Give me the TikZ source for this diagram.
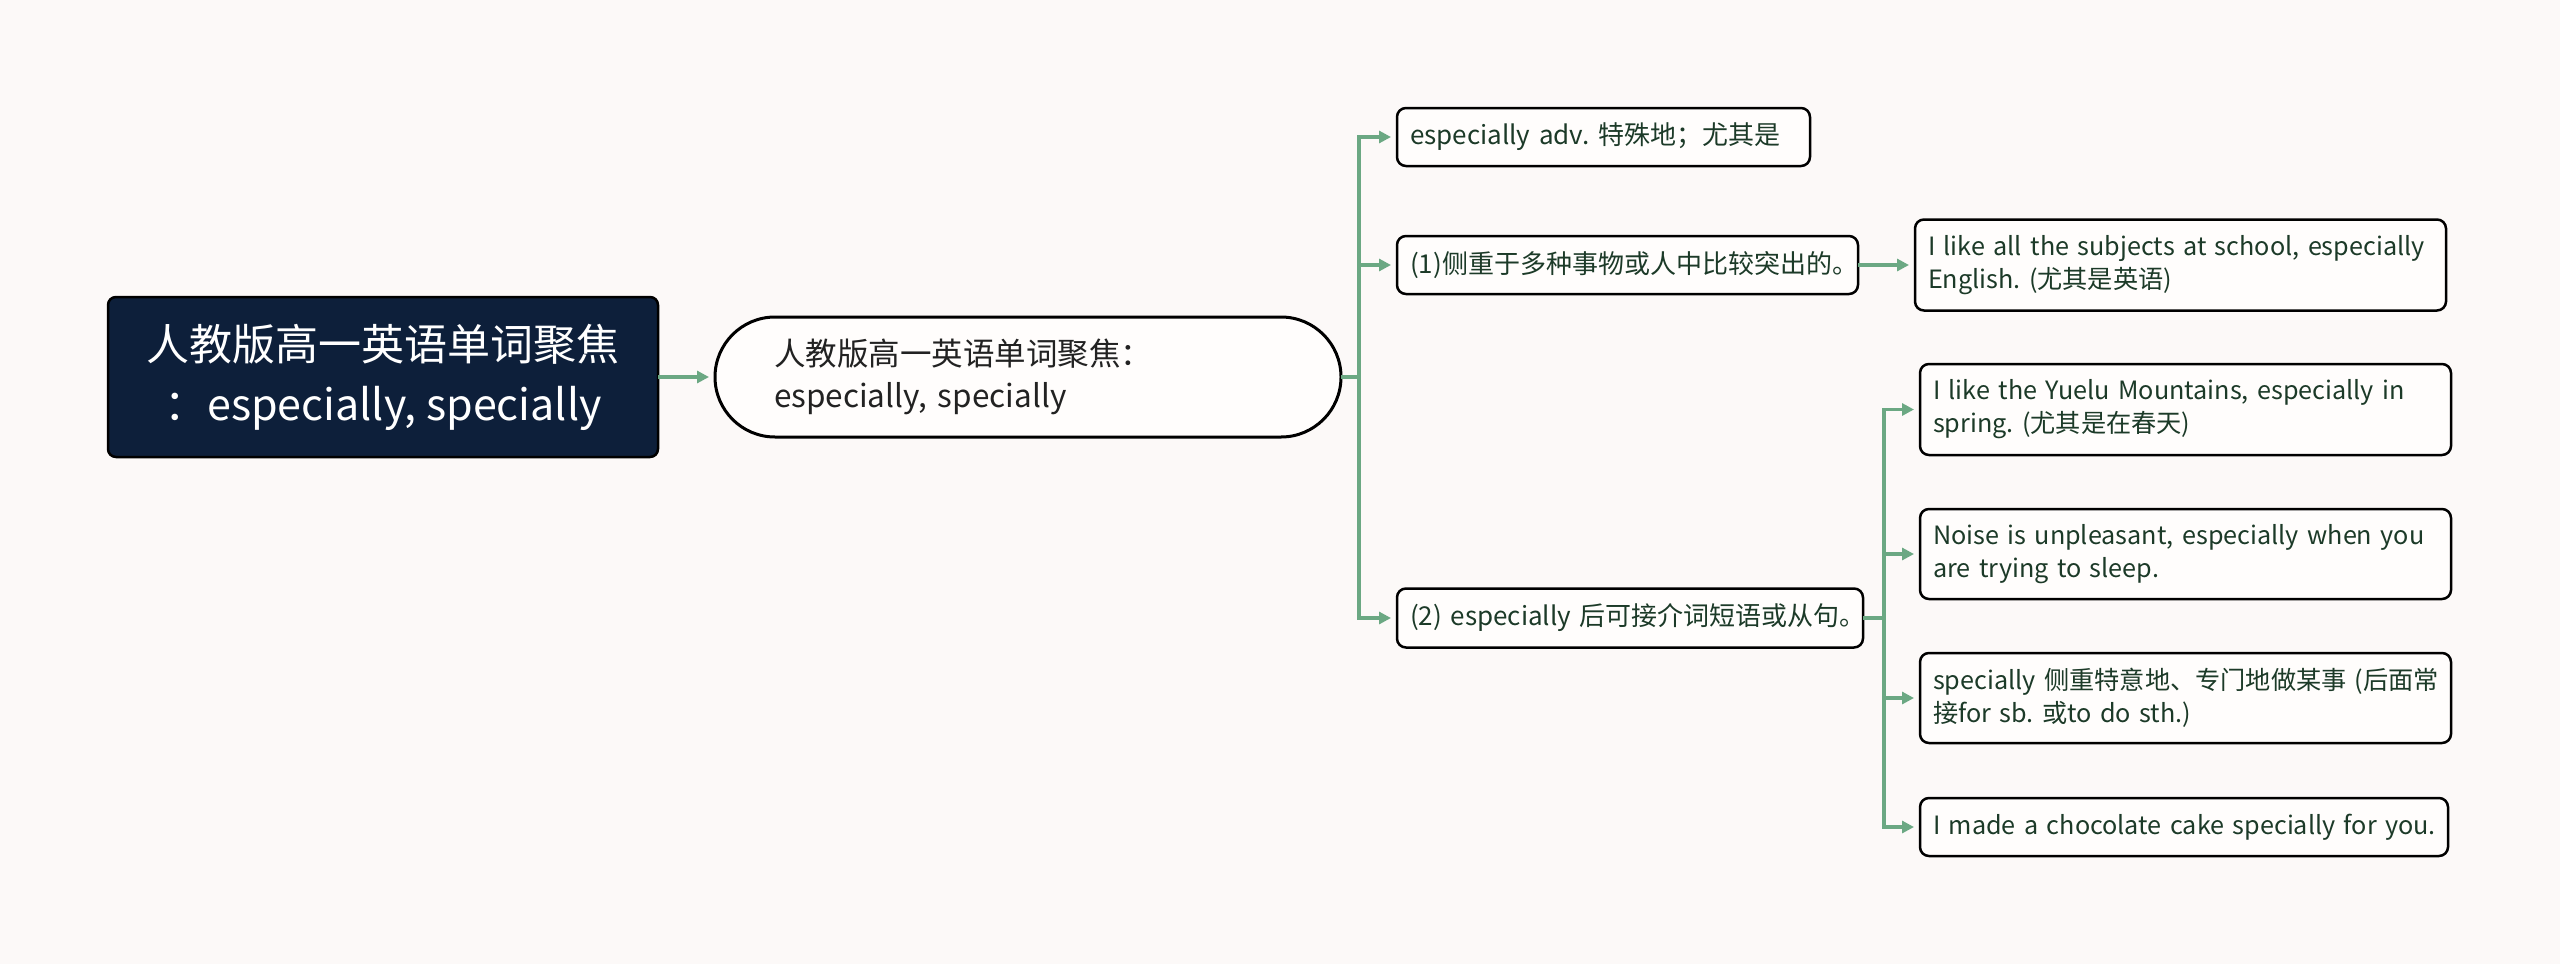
\documentclass[tikz,border=0pt]{standalone}
\usepackage{fontspec}
\setmainfont{Noto Sans CJK SC}
\usetikzlibrary{arrows.meta}
\definecolor{bgc}{HTML}{FCF9F8}
\definecolor{boxfill}{HTML}{FFFDFC}
\definecolor{childtext}{HTML}{1C3A28}
\definecolor{midtext}{HTML}{222222}
\definecolor{connc}{HTML}{6BA883}
\definecolor{rootfill}{HTML}{0D1F3A}
\tikzset{
  rootbox/.style={draw=black, line width=2.5pt, fill=rootfill, rounded corners=8pt, text=white,
    font=\fontsize{43}{60}\selectfont, align=center, minimum width=550pt, minimum height=160pt,
    inner sep=0pt, outer sep=0pt},
  midbox/.style={draw=black, line width=3pt, fill=boxfill, rounded corners=60pt, text=midtext,
    font=\fontsize{31.5}{42}\selectfont, align=left, minimum height=120pt, text width=508pt,
    inner xsep=59pt, inner ysep=0pt, outer sep=0pt, anchor=west},
  leafbox/.style={draw=black, line width=2.5pt, fill=boxfill, rounded corners=9pt, text=childtext,
    font=\fontsize{26}{33}\selectfont, align=left, inner xsep=13pt, inner ysep=0pt, outer sep=0pt,
    anchor=west},
  gleaf/.style={leafbox, font=\fontsize{25.2}{33}\selectfont},
  conn/.style={draw=connc, line width=3.5pt, -{Triangle[length=12pt,width=12pt]}, shorten >=6pt},
}
\begin{document}
\frenchspacing
\begin{tikzpicture}[x=1pt,y=-1pt]
\fill[bgc] (0,0) rectangle (2560,964);
\useasboundingbox (0,0) rectangle (2560,964);

\node[rootbox] (root) at (383,377) {人教版高一英语单词聚焦\\：especially, specially};
\node[midbox] (mid) at (715,377) {\mbox{人教版高一英语单词聚焦：}\\\mbox{especially, specially}};

\node[leafbox, minimum height=58pt, text width=387pt] (c1) at (1397,137) {\mbox{especially adv. 特殊地；尤其是}};
\node[leafbox, minimum height=58pt, text width=435pt] (c2) at (1397,265) {\mbox{(1)侧重于多种事物或人中比较突出的。}};
\node[leafbox, minimum height=59pt, text width=440pt] (c3) at (1397,618) {\mbox{(2) especially 后可接介词短语或从句。}};

\node[gleaf, minimum height=91pt, text width=505pt] (g0) at (1915,265) {\mbox{I like all the subjects at school, especially}\\\mbox{English. (尤其是英语)}};

\node[gleaf, minimum height=91pt, text width=505pt] (g1) at (1920,409.5) {\mbox{I like the Yuelu Mountains, especially in}\\\mbox{spring. (尤其是在春天)}};
\node[gleaf, minimum height=90pt, text width=505pt] (g2) at (1920,554) {\mbox{Noise is unpleasant, especially when you}\\\mbox{are trying to sleep.}};
\node[gleaf, minimum height=90pt, text width=505pt] (g3) at (1920,698) {\mbox{specially 侧重特意地、专门地做某事 (后面常}\\\mbox{接for sb. 或to do sth.)}};
\node[gleaf, minimum height=58pt, text width=502pt] (g4) at (1920,827) {\mbox{I made a chocolate cake specially for you.}};

\draw[conn] (root.east) -- (mid.west);

\draw[conn] (mid.east) -- ++(18,0) |- (c1.west);
\draw[conn] (mid.east) -- ++(18,0) |- (c2.west);
\draw[conn] (mid.east) -- ++(18,0) |- (c3.west);

\draw[conn] (c2.east) -- (g0.west);

\draw[conn] (c3.east) -- ++(21,0) |- (g1.west);
\draw[conn] (c3.east) -- ++(21,0) |- (g2.west);
\draw[conn] (c3.east) -- ++(21,0) |- (g3.west);
\draw[conn] (c3.east) -- ++(21,0) |- (g4.west);
\end{tikzpicture}
\end{document}
